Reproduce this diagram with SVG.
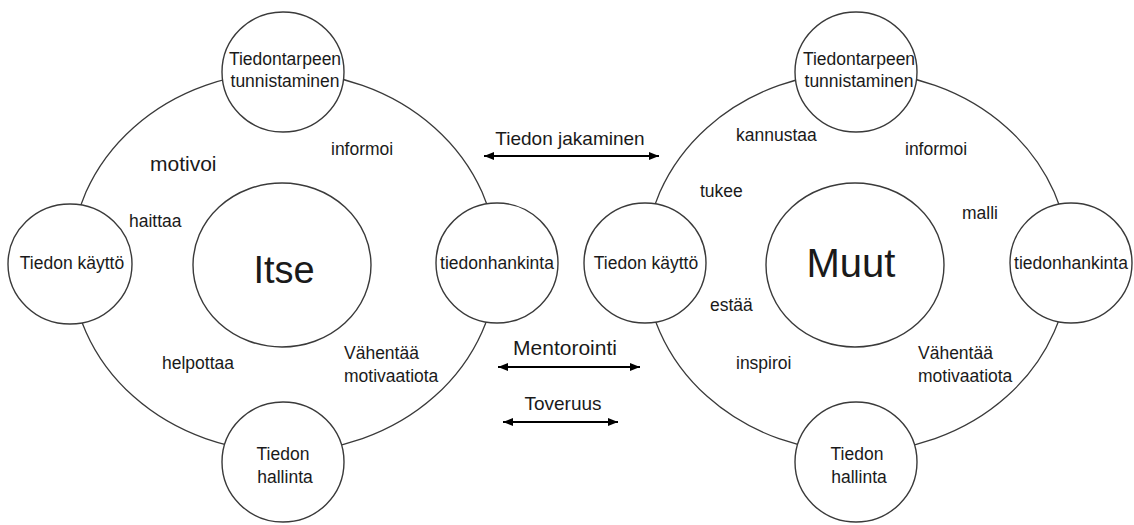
<svg xmlns="http://www.w3.org/2000/svg" width="1134" height="525" viewBox="0 0 1134 525">
<style>
.ring{fill:none;stroke:#3a3a3a;stroke-width:1.3}
.node{fill:#fff;stroke:#3a3a3a;stroke-width:1.4}
text{font-family:"Liberation Sans",Arial,sans-serif;fill:#1a1a1a}
.n{font-size:17.5px;text-anchor:middle}
.l{font-size:17.5px}
.big{text-anchor:middle}
.arrow{stroke:#000;stroke-width:2.2;fill:none;marker-start:url(#ah);marker-end:url(#ah)}
.m{font-size:19px;text-anchor:middle}
</style>
<defs>
<marker id="ah" markerUnits="userSpaceOnUse" markerWidth="10" markerHeight="8" refX="10" refY="4" orient="auto-start-reverse" viewBox="0 0 10 8">
<path d="M0,0 L10,4 L0,8 Z" fill="#000"/>
</marker>
</defs>
<rect width="1134" height="525" fill="#fff"/>
<g id="connectors">
<ellipse class="ring" cx="284" cy="262" rx="213" ry="190"/>
<ellipse class="ring" cx="857" cy="262" rx="212" ry="190"/>
<line class="arrow" x1="484" y1="156" x2="659" y2="156"/>
<line class="arrow" x1="498" y1="367" x2="640" y2="367"/>
<line class="arrow" x1="503" y1="422" x2="618" y2="422"/>
<text class="m" x="570" y="145">Tiedon jakaminen</text>
<text class="m" x="565" y="355" style="font-size:21px">Mentorointi</text>
<text class="m" x="563" y="410">Toveruus</text>
</g>
<g id="itse">
<ellipse class="node" cx="282" cy="265" rx="89" ry="82"/>
<text class="big" x="284" y="283" style="font-size:38px">Itse</text>
</g>
<g id="l-top">
<ellipse class="node" cx="283" cy="72" rx="61" ry="60"/>
<text class="n" x="285" y="65">Tiedontarpeen</text>
<text class="n" x="285" y="87">tunnistaminen</text>
</g>
<g id="l-left">
<ellipse class="node" cx="70" cy="264" rx="62" ry="60"/>
<text class="n" x="72" y="269">Tiedon käyttö</text>
</g>
<g id="l-right">
<ellipse class="node" cx="497" cy="263" rx="61" ry="60"/>
<text class="n" x="497" y="269">tiedonhankinta</text>
</g>
<g id="l-bottom">
<ellipse class="node" cx="283" cy="462" rx="61" ry="60"/>
<text class="n" x="283" y="460">Tiedon</text>
<text class="n" x="285" y="483">hallinta</text>
</g>
<g id="l-labels">
<text x="150" y="171" style="font-size:21px">motivoi</text>
<text class="l" x="331" y="155">informoi</text>
<text class="l" x="129" y="227">haittaa</text>
<text class="l" x="162" y="369">helpottaa</text>
<text class="l" x="344" y="359">Vähentää</text>
<text class="l" x="344" y="382">motivaatiota</text>
</g>
<g id="muut">
<ellipse class="node" cx="855" cy="265" rx="89" ry="82"/>
<text class="big" x="851" y="277" style="font-size:40px">Muut</text>
</g>
<g id="r-top">
<ellipse class="node" cx="856" cy="72" rx="61" ry="60"/>
<text class="n" x="859" y="65">Tiedontarpeen</text>
<text class="n" x="859" y="87">tunnistaminen</text>
</g>
<g id="r-left">
<ellipse class="node" cx="645" cy="263" rx="61" ry="60"/>
<text class="n" x="646" y="269">Tiedon käyttö</text>
</g>
<g id="r-right">
<ellipse class="node" cx="1071" cy="263" rx="61" ry="60"/>
<text class="n" x="1071" y="269">tiedonhankinta</text>
</g>
<g id="r-bottom">
<ellipse class="node" cx="856" cy="462" rx="61" ry="60"/>
<text class="n" x="857" y="460">Tiedon</text>
<text class="n" x="859" y="483">hallinta</text>
</g>
<g id="r-labels">
<text class="l" x="736" y="141">kannustaa</text>
<text class="l" x="905" y="155">informoi</text>
<text class="l" x="700" y="197">tukee</text>
<text class="l" x="962" y="219">malli</text>
<text class="l" x="710" y="311">estää</text>
<text class="l" x="736" y="369">inspiroi</text>
<text class="l" x="918" y="359">Vähentää</text>
<text class="l" x="918" y="382">motivaatiota</text>
</g>
</svg>
